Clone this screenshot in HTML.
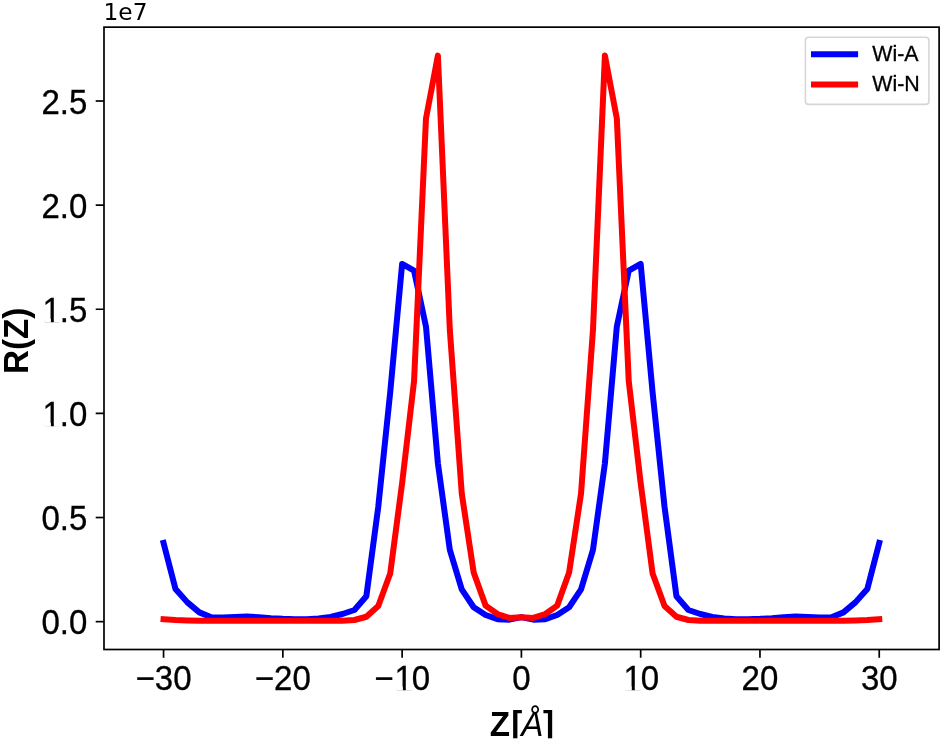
<!DOCTYPE html>
<html lang="en"><head><meta charset="utf-8"><title>R(Z) profile</title>
<style>
html,body{margin:0;padding:0;background:#fff;}
body{width:943px;height:742px;overflow:hidden;}
svg{display:block;}
text{font-family:"Liberation Sans",sans-serif;fill:#000;}
.tick{font-size:33px;stroke:#000;stroke-width:0.3px;}
.leg{font-size:21.4px;stroke:#000;stroke-width:0.3px;}
.lab{font-size:33.2px;font-weight:bold;}
.off{font-family:"DejaVu Sans","Liberation Sans",sans-serif;font-size:23.3px;}
</style></head><body>
<svg width="943" height="742" viewBox="0 0 943 742">
<rect x="0" y="0" width="943" height="742" fill="#ffffff"/>
<polyline fill="none" stroke="#0000ff" stroke-width="6.00" stroke-linejoin="round" stroke-linecap="square" points="163.56,542.93 175.49,588.95 187.42,602.37 199.34,612.38 211.27,617.28 223.20,617.57 235.13,616.92 247.06,616.44 258.98,617.28 270.91,618.21 282.84,618.86 294.77,619.15 306.70,619.15 318.62,618.53 330.55,616.92 342.48,614.01 354.41,609.99 366.34,596.24 378.26,506.90 390.19,392.56 402.12,263.94 414.05,270.52 425.98,326.55 437.90,463.37 449.83,549.80 461.76,589.45 473.69,607.28 485.62,614.99 497.54,619.15 509.47,619.67 521.40,617.07 533.33,619.67 545.26,619.15 557.18,614.99 569.11,607.28 581.04,589.45 592.97,549.80 604.90,463.37 616.82,326.55 628.75,270.52 640.68,263.94 652.61,392.56 664.54,506.90 676.46,596.24 688.39,609.99 700.32,614.01 712.25,616.92 724.18,618.53 736.10,619.15 748.03,619.15 759.96,618.86 771.89,618.21 783.82,617.28 795.74,616.44 807.67,616.92 819.60,617.57 831.53,617.28 843.46,612.38 855.38,602.37 867.31,588.95 879.24,542.93"/>
<polyline fill="none" stroke="#ff0000" stroke-width="6.00" stroke-linejoin="round" stroke-linecap="square" points="163.56,619.15 175.49,619.98 187.42,620.46 199.34,620.71 211.27,620.82 223.20,620.82 235.13,620.82 247.06,620.82 258.98,620.82 270.91,620.82 282.84,620.82 294.77,620.82 306.70,620.82 318.62,620.82 330.55,620.82 342.48,620.82 354.41,619.98 366.34,616.76 378.26,605.93 390.19,573.54 402.12,483.16 414.05,381.11 425.98,118.49 437.90,55.60 449.83,330.09 461.76,493.57 473.69,572.50 485.62,605.61 497.54,614.05 509.47,617.94 521.40,617.32 533.33,617.94 545.26,614.05 557.18,605.61 569.11,572.50 581.04,493.57 592.97,330.09 604.90,55.60 616.82,118.49 628.75,381.11 640.68,483.16 652.61,573.54 664.54,605.93 676.46,616.76 688.39,619.98 700.32,620.82 712.25,620.82 724.18,620.82 736.10,620.82 748.03,620.82 759.96,620.82 771.89,620.82 783.82,620.82 795.74,620.82 807.67,620.82 819.60,620.82 831.53,620.82 843.46,620.71 855.38,620.46 867.31,619.98 879.24,619.15"/>
<rect x="104.00" y="27.15" width="835.10" height="622.35" fill="none" stroke="#000" stroke-width="1.7"/>
<defs><clipPath id="nofoot" clipPathUnits="userSpaceOnUse"><path clip-rule="evenodd" d="M0 0H943V742H0Z M44.24 422.77H50.92V426.74H44.24Z M53.84 422.77H60.19V426.74H53.84Z M44.24 318.64H50.92V322.61H44.24Z M53.84 318.64H60.19V322.61H53.84Z M396.21 686.43H402.90V690.40H396.21Z M405.82 686.43H412.17V690.40H405.82Z M625.14 686.43H631.83V690.40H625.14Z M634.74 686.43H641.09V690.40H634.74Z"/></clipPath></defs>
<g clip-path="url(#nofoot)">
<line x1="95.70" y1="621.65" x2="104.00" y2="621.65" stroke="#000" stroke-width="1.7"/>
<text class="tick" transform="translate(41.43,634.20) scale(1,1.041)">0.0</text>
<line x1="95.70" y1="517.52" x2="104.00" y2="517.52" stroke="#000" stroke-width="1.7"/>
<text class="tick" transform="translate(41.43,530.07) scale(1,1.041)">0.5</text>
<line x1="95.70" y1="413.39" x2="104.00" y2="413.39" stroke="#000" stroke-width="1.7"/>
<text class="tick" transform="translate(41.43,425.94) scale(1,1.041)"><tspan dx="1.2">1</tspan><tspan dx="-1.2">.</tspan>0</text>
<line x1="95.70" y1="309.26" x2="104.00" y2="309.26" stroke="#000" stroke-width="1.7"/>
<text class="tick" transform="translate(41.43,321.81) scale(1,1.041)"><tspan dx="1.2">1</tspan><tspan dx="-1.2">.</tspan>5</text>
<line x1="95.70" y1="205.13" x2="104.00" y2="205.13" stroke="#000" stroke-width="1.7"/>
<text class="tick" transform="translate(41.43,217.68) scale(1,1.041)">2.0</text>
<line x1="95.70" y1="101.00" x2="104.00" y2="101.00" stroke="#000" stroke-width="1.7"/>
<text class="tick" transform="translate(41.43,113.55) scale(1,1.041)">2.5</text>
<line x1="163.56" y1="649.50" x2="163.56" y2="657.80" stroke="#000" stroke-width="1.7"/>
<text class="tick" transform="translate(135.57,689.60) scale(1,1.041)">−30</text>
<line x1="282.84" y1="649.50" x2="282.84" y2="657.80" stroke="#000" stroke-width="1.7"/>
<text class="tick" transform="translate(254.85,689.60) scale(1,1.041)">−20</text>
<line x1="402.12" y1="649.50" x2="402.12" y2="657.80" stroke="#000" stroke-width="1.7"/>
<text class="tick" transform="translate(374.13,689.60) scale(1,1.041)">−<tspan dx="1.2">1</tspan><tspan dx="-1.2">0</tspan></text>
<line x1="521.40" y1="649.50" x2="521.40" y2="657.80" stroke="#000" stroke-width="1.7"/>
<text class="tick" transform="translate(512.22,689.60) scale(1,1.041)">0</text>
<line x1="640.68" y1="649.50" x2="640.68" y2="657.80" stroke="#000" stroke-width="1.7"/>
<text class="tick" transform="translate(622.33,689.60) scale(1,1.041)"><tspan dx="1.2">1</tspan><tspan dx="-1.2">0</tspan></text>
<line x1="759.96" y1="649.50" x2="759.96" y2="657.80" stroke="#000" stroke-width="1.7"/>
<text class="tick" transform="translate(741.61,689.60) scale(1,1.041)">20</text>
<line x1="879.24" y1="649.50" x2="879.24" y2="657.80" stroke="#000" stroke-width="1.7"/>
<text class="tick" transform="translate(860.89,689.60) scale(1,1.041)">30</text>
</g>
<text class="off" x="103.5" y="20.4">1e7</text>
<text class="lab" transform="translate(28.3,340.9) rotate(-90) scale(1,1.041)" text-anchor="middle">R(Z)</text>
<text class="lab" transform="translate(522.0,736.1) scale(1,1.041)" text-anchor="middle">Z<tspan dx="1.2">[</tspan><tspan dx="-1.2" font-style="italic" font-weight="normal">Å</tspan><tspan dx="-0.2">]</tspan></text>
<rect x="470" y="738.3" width="110" height="4" fill="#ffffff"/>
<rect x="805.4" y="37.2" width="123.5" height="67.2" rx="3.2" ry="3.2" fill="#ffffff" fill-opacity="0.8" stroke="#cccccc" stroke-opacity="0.8" stroke-width="1.6"/>
<line x1="811" y1="54.3" x2="858.1" y2="54.3" stroke="#0000ff" stroke-width="6"/>
<line x1="811" y1="84.6" x2="858.1" y2="84.6" stroke="#ff0000" stroke-width="6"/>
<text class="leg" transform="translate(872.3,61.3) scale(1,1.041)">Wi-A</text>
<text class="leg" transform="translate(872.3,91.3) scale(1,1.041)">Wi-N</text>
</svg></body></html>
